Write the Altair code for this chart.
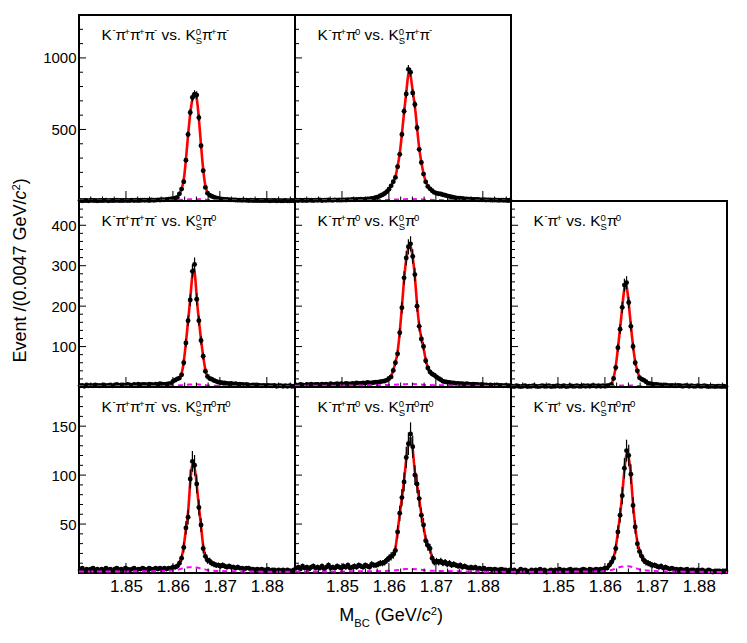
import altair as alt
import pandas as pd

# ---------------- data ----------------
X_DOMAIN = [1.84, 1.886]
BIN_WIDTH = 0.00046
PANEL_W, PANEL_H = 216, 186

P1 = [3,2,4,3,2,5,3,4,2,3, 4,3,5,2,4,3,3,5,4,3, 4,5,3,4,6,4,5,3,5,6, 5,6,4,7,5,6,8,7,9,8,
      10,12,14,16,20,25,50,83,135,285, 465,619,723,747,740,583,386,212,95,55,
      40,33,27,22,18,15,13,11,10,9, 8,8,7,6,6,5,6,5,4,5, 4,4,3,4,3,3,4,3,2,3, 3,2,3,2,2,3,2,2,3,2]
P2 = [5,4,6,3,5,4,6,5,4,6, 5,7,4,6,5,7,6,5,8,6, 7,6,8,7,9,8,10,9,11,10, 12,11,13,14,15,17,20,24,29,37,
      44,52,65,82,106,135,165,240,326,465, 627,748,920,900,755,674,512,361,269,188,
      134,102,85,72,60,55,51,49,44,40, 36,32,28,25,22,20,19,17,15,14, 13,12,11,10,10,9,8,9,7,8, 7,6,7,6,5,6,5,5,4,5]
P3 = [3,4,2,5,3,4,3,5,4,3, 4,5,3,4,5,3,4,6,4,5, 5,4,6,5,4,6,5,7,5,6, 6,5,7,6,5,7,6,8,7,6,
      7,8,8,14,17,20,22,30,60,109, 164,215,286,303,217,164,115,76,39,26,
      21,19,16,14,12,11,10,10,9,8, 9,7,8,6,7,6,5,6,5,4, 5,4,5,4,3,4,3,4,3,3, 4,2,3,3,2,3,2,3,2,2]
P4 = [5,4,6,5,4,6,5,7,5,6, 6,5,7,6,7,5,8,6,7,8, 7,8,6,9,8,7,9,8,10,9, 9,10,9,11,10,10,11,12,12,13,
      14,15,17,21,25,41,60,82,134,196, 270,319,347,354,323,278,200,150,119,100,
      65,47,37,32,29,25,21,18,14,13, 12,11,10,10,9,9,8,8,7,8, 7,6,7,6,6,5,6,5,5,4, 5,4,4,5,4,4,3,4,3,3]
P5 = [2,1,3,2,1,2,3,1,2,2, 3,2,1,2,3,2,2,3,1,2, 2,3,2,2,3,1,2,3,2,2, 3,2,2,3,2,3,2,3,3,2,
      3,2,3,2,3,4,6,21,48,97, 143,197,252,258,209,150,100,60,40,23,
      19,17,13,9,8,7,6,6,5,5, 4,5,4,3,4,3,3,4,3,2, 3,3,2,3,2,2,3,2,2,3, 2,1,2,2,1,2,2,1,2,1]
P6 = [3,5,2,4,3,4,5,3,4,2, 4,3,5,3,4,2,4,5,3,4, 3,5,4,3,4,5,3,4,4,5, 4,3,5,4,4,5,4,5,3,5,
      4,5,5,6,6,7,10,15,26,46, 57,96,114,110,91,67,49,25,17,13,
      12,10,9,8,8,7,8,7,6,7, 6,6,5,6,5,5,4,5,5,4, 4,3,4,3,4,3,3,4,2,3, 3,2,3,2,3,2,3,2,2,3]
P7 = [5,6,4,7,5,6,4,6,7,5, 6,5,7,4,6,8,5,6,5,7, 6,5,7,6,8,5,6,7,6,8, 7,6,8,7,6,9,8,8,9,10,
      10,11,13,15,17,19,23,42,61,77, 93,118,132,142,129,100,91,76,59,49,
      33,28,25,15,11,12,11,12,10,11, 9,10,8,9,8,7,8,6,7,6, 5,6,5,6,4,5,4,5,3,4, 4,3,4,3,3,4,3,3,2,3]
P8 = [2,3,1,2,4,2,3,2,1,3, 2,3,2,4,2,3,1,2,3,2, 3,2,4,2,3,2,3,4,2,3, 3,2,3,4,3,2,4,3,3,4,
      3,4,4,5,5,8,11,15,25,42, 59,79,107,125,120,101,69,47,30,22,
      17,13,11,10,9,8,8,7,6,7, 5,6,5,4,5,4,4,3,4,3, 3,4,2,3,3,2,3,2,3,2, 2,3,2,1,2,2,2,1,2,2]

BG_X = [1.840, 1.855, 1.860, 1.862, 1.8635, 1.865, 1.8665, 1.868, 1.872, 1.886]
BG1 = [3, 4, 6, 9, 12, 13, 11, 8, 5, 2]
BG2 = [4, 6, 8, 11, 13, 14, 12, 9, 6, 3]
BG3 = [2, 2.5, 3, 4.5, 6, 6.5, 5, 3.5, 2.5, 1.5]
BG4 = [3, 4, 5, 6, 7, 7.5, 6.5, 5, 4, 2.5]
BG5 = [1, 1.2, 1.5, 2.5, 3.5, 4, 3, 2, 1.5, 1]
BG6 = [1.5, 1.8, 2.5, 4.5, 6, 5.5, 4, 2.5, 1.8, 1.2]
BG7 = [1.5, 1.8, 2.2, 3, 4, 4.2, 3.5, 2.5, 2, 1.2]
BG8 = [1.2, 1.5, 2, 4, 6.5, 7, 5, 3, 1.8, 1]

COUNTS = [P1, P2, P3, P4, P5, P6, P7, P8]
BGS = [BG1, BG2, BG3, BG4, BG5, BG6, BG7, BG8]
TITLES = [
    "K^{-}#pi^{+}#pi^{+}#pi^{-} vs. K^{0}_{S}#pi^{+}#pi^{-}",
    "K^{-}#pi^{+}#pi^{0} vs. K^{0}_{S}#pi^{+}#pi^{-}",
    "K^{-}#pi^{+}#pi^{+}#pi^{-} vs. K^{0}_{S}#pi^{0}",
    "K^{-}#pi^{+}#pi^{0} vs. K^{0}_{S}#pi^{0}",
    "K^{-}#pi^{+} vs. K^{0}_{S}#pi^{0}",
    "K^{-}#pi^{+}#pi^{+}#pi^{-} vs. K^{0}_{S}#pi^{0}#pi^{0}",
    "K^{-}#pi^{+}#pi^{0} vs. K^{0}_{S}#pi^{0}#pi^{0}",
    "K^{-}#pi^{+} vs. K^{0}_{S}#pi^{0}#pi^{0}",
]
ROW_OF = [0, 0, 1, 1, 1, 2, 2, 2]
COL_OF = [0, 1, 0, 1, 2, 0, 1, 2]

ROW_YMAX = [1300, 460, 190]
ROW_Y_LABELS = [[500, 1000], [100, 200, 300, 400], [50, 100, 150]]
ROW_Y_MINOR = [[100, 200, 300, 400, 600, 700, 800, 900, 1100, 1200],
               [20, 40, 60, 80, 120, 140, 160, 180, 220, 240, 260, 280, 320, 340, 360, 380, 420, 440],
               [10, 20, 30, 40, 60, 70, 80, 90, 110, 120, 130, 140, 160, 170, 180]]
X_LABELS = [1.85, 1.86, 1.87, 1.88]
X_MINOR = [1.8425, 1.845, 1.8475, 1.8525, 1.855, 1.8575, 1.8625, 1.865, 1.8675,
           1.8725, 1.875, 1.8775, 1.8825, 1.885]

X_TITLE = "M_{BC} (GeV/#it{c}^{2})"
Y_TITLE = "Event /(0.0047 GeV/#it{c}^{2})"

FONT = "Liberation Sans"

# ---------------- rich text layout (ROOT-like TLatex) ----------------
WID = {"K": .667, "π": .577, "+": .584, "-": .333, " ": .278, "v": .5, "s": .5, ".": .278,
       "S": .667, "M": .833, "B": .667, "C": .722, "(": .333, ")": .333, "G": .778,
       "e": .556, "V": .667, "/": .278, "c": .5, "E": .667, "n": .556, "t": .278}


def swidth(t):
    return sum(WID.get(ch, .556) for ch in t)


def rich(spec, fs, r=0.62):
    toks, buf, i = [], "", 0
    while i < len(spec):
        if spec.startswith("^{", i) or spec.startswith("_{", i):
            if buf:
                toks.append(("n", buf, False)); buf = ""
            j = spec.index("}", i)
            toks.append(("sup" if spec[i] == "^" else "sub", spec[i + 2:j], False))
            i = j + 1
        elif spec.startswith("#it{", i):
            if buf:
                toks.append(("n", buf, False)); buf = ""
            j = spec.index("}", i)
            toks.append(("n", spec[i + 4:j], True))
            i = j + 1
        elif spec.startswith("#pi", i):
            buf += "π"; i += 3
        else:
            buf += spec[i]; i += 1
    if buf:
        toks.append(("n", buf, False))

    def raise_of(kind, t):
        if kind == "sub":
            return -0.30 * fs
        return 0.45 * fs if t == "-" else 0.32 * fs

    out, u, k = [], 0.0, 0
    while k < len(toks):
        kind, t, it = toks[k]
        if kind == "n":
            lead = len(t) - len(t.lstrip(" "))
            u += lead * WID[" "] * fs
            body = t.lstrip(" ")
            out.append((u, 0.0, fs, body, it)); u += swidth(body) * fs
        else:
            sfs = fs * r
            gap = 0.04 * fs if t == "-" else 0.0
            w = swidth(t) * sfs + gap
            out.append((u + gap, raise_of(kind, t), sfs, t, False))
            if k + 1 < len(toks) and toks[k + 1][0] in ("sup", "sub") and toks[k + 1][0] != kind:
                k2 = toks[k + 1]
                out.append((u, raise_of(k2[0], k2[1]), sfs, k2[1], False))
                w = max(w, swidth(k2[1]) * sfs)
                k += 1
            u += w
        k += 1
    return out


def to_data(px, py, ymax):
    xd = X_DOMAIN[0] + px / PANEL_W * (X_DOMAIN[1] - X_DOMAIN[0])
    yd = ymax * (1 - py / PANEL_H)
    return xd, yd


def panel(idx):
    row, col = ROW_OF[idx], COL_OF[idx]
    ymax = ROW_YMAX[row]
    xs = alt.Scale(domain=X_DOMAIN, nice=False, zero=False)
    ys = alt.Scale(domain=[0, ymax], nice=False, zero=False)

    x_axis = alt.Axis(values=X_LABELS, format=".2f", ticks=False, tickSize=0, domain=False, grid=False,
                      title=None, labelFontSize=17, labelPadding=5, labelFlush=False,
                      labelColor="black", labelFont=FONT) if row == 2 else None
    y_axis = alt.Axis(values=ROW_Y_LABELS[row], format="d", ticks=False, tickSize=0, domain=False, grid=False,
                      title=None, labelFontSize=15, labelPadding=3, labelFlush=False,
                      labelColor="black", labelFont=FONT) if col == 0 else None

    def X(f):
        return alt.X(f, scale=xs, axis=x_axis)

    def Y(f):
        return alt.Y(f, scale=ys, axis=y_axis)

    counts = COUNTS[idx]
    centers = [round(X_DOMAIN[0] + BIN_WIDTH * (i + 0.5), 6) for i in range(len(counts))]
    hist = pd.DataFrame({"m": centers, "n": counts})
    base = alt.Chart(hist).transform_calculate(
        lo="datum.n - sqrt(datum.n)", hi="datum.n + sqrt(datum.n)",
        ml=f"datum.m - {BIN_WIDTH / 2}", mr=f"datum.m + {BIN_WIDTH / 2}")

    fit = base.mark_line(color="#ff0000", strokeWidth=2.6, interpolate="basis").encode(
        x=X("m:Q"), y=Y("n:Q"))
    herr = base.mark_rule(color="black", strokeWidth=1.4).encode(
        x=X("ml:Q"), x2="mr:Q", y=Y("n:Q"))
    verr = base.mark_rule(color="black", strokeWidth=1.2).encode(
        x=X("m:Q"), y=Y("lo:Q"), y2="hi:Q")
    pts = base.mark_circle(size=24, color="black", opacity=1).encode(
        x=X("m:Q"), y=Y("n:Q"))
    bg = alt.Chart(pd.DataFrame({"bx": BG_X, "by": BGS[idx]})).mark_line(
        color="#ff00ff", strokeDash=[5, 4], strokeWidth=2, interpolate="monotone").encode(
        x=X("bx:Q"), y=Y("by:Q"))

    xt_major = alt.Chart(pd.DataFrame({"t": X_LABELS})).mark_rule(color="black", strokeWidth=1).encode(
        x=X("t:Q"), y=alt.value(PANEL_H), y2=alt.value(PANEL_H - 10))
    xt_minor = alt.Chart(pd.DataFrame({"t": X_MINOR})).mark_rule(color="black", strokeWidth=1).encode(
        x=X("t:Q"), y=alt.value(PANEL_H), y2=alt.value(PANEL_H - 4.5))
    yt_major = alt.Chart(pd.DataFrame({"t": ROW_Y_LABELS[row]})).mark_rule(color="black", strokeWidth=1).encode(
        y=Y("t:Q"), x=alt.value(0), x2=alt.value(7))
    yt_minor = alt.Chart(pd.DataFrame({"t": ROW_Y_MINOR[row]})).mark_rule(color="black", strokeWidth=1).encode(
        y=Y("t:Q"), x=alt.value(0), x2=alt.value(4))

    def text_layers(items, x0, y0, angle=0):
        rows = []
        for (u, v, fs, t, it) in items:
            if angle == 0:
                px, py = x0 + u, y0 - v
            else:
                px, py = x0 - v, y0 - u
            xd, yd = to_data(px, py, ymax)
            rows.append({"tx": xd, "ty": yd, "fs": fs, "txt": t, "it": it})
        df = pd.DataFrame(rows)
        out = []
        for italic in (False, True):
            sub = df[df["it"] == italic]
            if len(sub) == 0:
                continue
            out.append(
                alt.Chart(sub).mark_text(align="left", baseline="alphabetic", font=FONT, color="black",
                                         angle=angle, fontStyle="italic" if italic else "normal")
                .encode(x=X("tx:Q"), y=Y("ty:Q"),
                        size=alt.Size("fs:Q", scale=None, legend=None),
                        text="txt:N"))
        return out

    layers = [fit, herr, verr, pts, bg, xt_major, xt_minor, yt_major, yt_minor]
    layers += text_layers(rich(TITLES[idx], 15.4), 22.5, 24.5)
    if idx == 6:
        layers += text_layers(rich(X_TITLE, 18), 44.3, 234.2)
    if idx == 2:
        layers += text_layers(rich(Y_TITLE, 18), -53.3, 161.5, angle=270)
    return alt.layer(*layers).properties(width=PANEL_W, height=PANEL_H)


empty = (alt.Chart(pd.DataFrame({"a": [0]})).mark_point(opacity=0)
         .encode(x=alt.X("a:Q", axis=None), y=alt.Y("a:Q", axis=None))
         .properties(width=PANEL_W, height=PANEL_H, view=alt.ViewBackground(strokeOpacity=0)))

cells = [panel(0), panel(1), empty, panel(2), panel(3), panel(4), panel(5), panel(6), panel(7)]

chart = (alt.concat(*cells, columns=3, spacing=0, bounds="flush")
         .properties(padding={"left": 1, "top": 6, "right": 5, "bottom": 5}, background="white")
         .configure(font=FONT)
         .configure_view(stroke="black", strokeWidth=2))

chart.save("out.html", embed_options={"renderer": "svg", "actions": False})
